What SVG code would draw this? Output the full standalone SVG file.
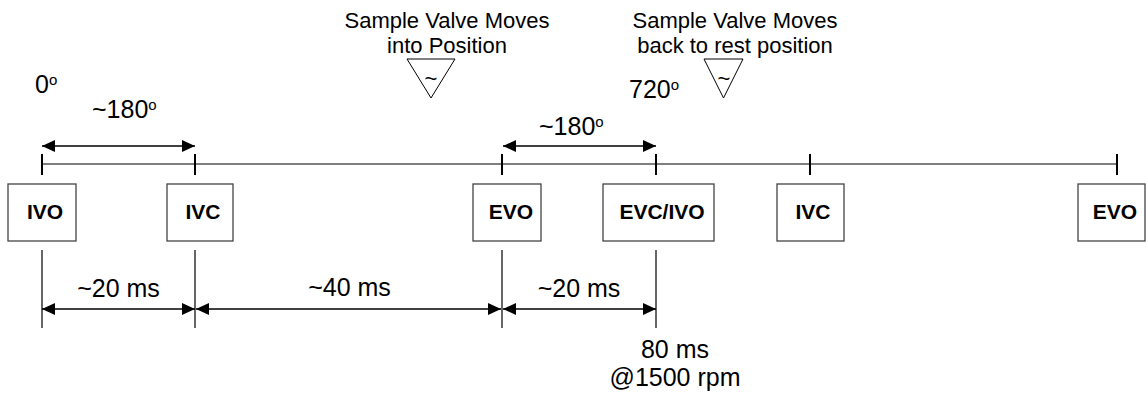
<svg xmlns="http://www.w3.org/2000/svg" width="1146" height="395" viewBox="0 0 1146 395">
<style>
  .box { fill: #ffffff; stroke: #444444; stroke-width: 1.3; }
  .bl { font-family: "Liberation Sans", Arial, sans-serif; font-weight: bold; font-size: 21px; fill: #000; text-anchor: middle; }
  .lbl { font-family: "Liberation Sans", Arial, sans-serif; font-size: 25px; fill: #000; }
  .note { font-family: "Liberation Sans", Arial, sans-serif; font-size: 22px; fill: #000; text-anchor: middle; }
  .sup { font-size: 15px; }
  .ln { stroke: #000; stroke-width: 1.2; fill: none; }
  .tick { stroke: #000; stroke-width: 2; }
  .arr { stroke: #000; stroke-width: 1.5; fill: none; marker-start: url(#ah); marker-end: url(#ah); }
  .tri { fill: #fff; stroke: #000; stroke-width: 1; }
</style>
<defs>
  <marker id="ah" markerUnits="userSpaceOnUse" markerWidth="14" markerHeight="13" refX="13" refY="6" orient="auto-start-reverse">
    <path d="M0,0 L13,6 L0,12 z" fill="#000"/>
  </marker>
</defs>
<rect width="1146" height="395" fill="#ffffff"/>

<g id="connectors">
  <line class="ln" x1="42" y1="164" x2="1117" y2="164"/>
  <line class="tick" x1="42" y1="154" x2="42" y2="175"/>
  <line class="tick" x1="195" y1="154" x2="195" y2="175"/>
  <line class="tick" x1="502" y1="154" x2="502" y2="175"/>
  <line class="tick" x1="656" y1="154" x2="656" y2="175"/>
  <line class="tick" x1="810" y1="154" x2="810" y2="175"/>
  <line class="tick" x1="1117" y1="154" x2="1117" y2="175"/>
  <line class="arr" x1="42" y1="146" x2="195" y2="146"/>
  <line class="arr" x1="503" y1="146" x2="656" y2="146"/>
  <line class="ln" x1="42" y1="250" x2="42" y2="328"/>
  <line class="ln" x1="195" y1="250" x2="195" y2="328"/>
  <line class="ln" x1="502" y1="250" x2="502" y2="328"/>
  <line class="ln" x1="656" y1="250" x2="656" y2="328"/>
  <line class="arr" x1="42" y1="309" x2="195" y2="309"/>
  <line class="arr" x1="196" y1="309" x2="501" y2="309"/>
  <line class="arr" x1="503" y1="309" x2="656" y2="309"/>
</g>

<g id="node-ivo1"><rect class="box" x="8" y="184" width="68" height="57"/><text class="bl" x="45" y="219">IVO</text></g>
<g id="node-ivc1"><rect class="box" x="167" y="184" width="66" height="57"/><text class="bl" x="203" y="219">IVC</text></g>
<g id="node-evo1"><rect class="box" x="473" y="184" width="68" height="57"/><text class="bl" x="511" y="219">EVO</text></g>
<g id="node-evcivo"><rect class="box" x="603" y="184" width="111" height="57"/><text class="bl" x="662" y="219">EVC/IVO</text></g>
<g id="node-ivc2"><rect class="box" x="777" y="184" width="67" height="57"/><text class="bl" x="813" y="219">IVC</text></g>
<g id="node-evo2"><rect class="box" x="1078" y="184" width="67" height="57"/><text class="bl" x="1115" y="219">EVO</text></g>

<g id="valve-in">
  <text class="note" x="447" y="28">Sample Valve Moves</text>
  <text class="note" x="447" y="53">into Position</text>
  <polygon class="tri" points="407,59 455,59 431,98"/>
  <text class="note" x="431" y="86" font-size="20">~</text>
</g>
<g id="valve-back">
  <text class="note" x="735" y="28">Sample Valve Moves</text>
  <text class="note" x="735" y="53">back to rest position</text>
  <polygon class="tri" points="704,59 743,59 723.5,98"/>
  <text class="note" x="724" y="86" font-size="20">~</text>
</g>

<g id="labels">
  <text class="lbl" x="35" y="93">0<tspan class="sup" dy="-8">o</tspan></text>
  <text class="lbl" x="92" y="118">~180<tspan class="sup" dy="-8">o</tspan></text>
  <text class="lbl" x="629" y="98">720<tspan class="sup" dy="-8">o</tspan></text>
  <text class="lbl" x="539" y="135">~180<tspan class="sup" dy="-8">o</tspan></text>
  <text class="lbl" x="118.5" y="297" text-anchor="middle">~20 ms</text>
  <text class="lbl" x="349.5" y="296" text-anchor="middle">~40 ms</text>
  <text class="lbl" x="579" y="297" text-anchor="middle">~20 ms</text>
  <text class="lbl" x="675" y="358" text-anchor="middle">80 ms</text>
  <text class="lbl" x="675" y="386" text-anchor="middle">@1500 rpm</text>
</g>
</svg>
